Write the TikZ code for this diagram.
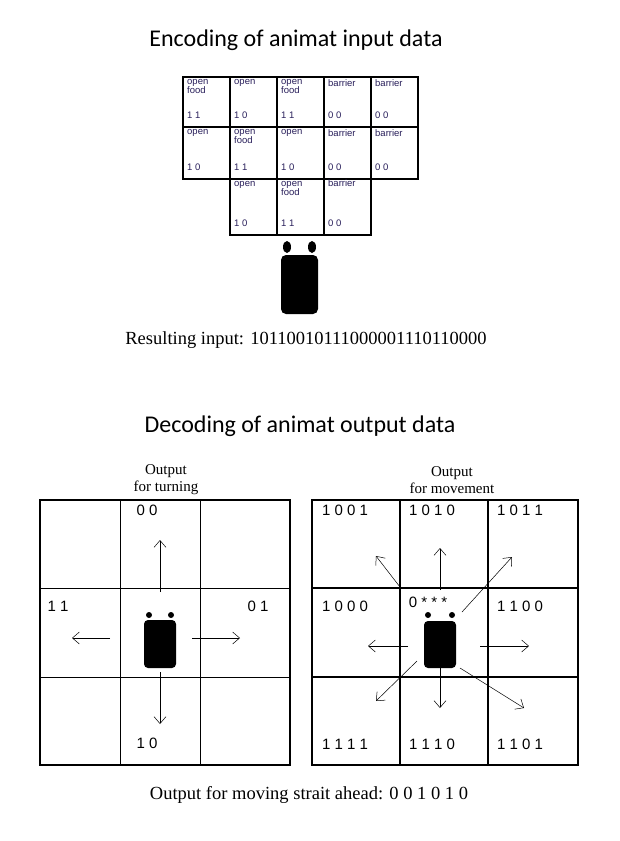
\documentclass[tikz,border=0pt]{standalone}
\usepackage{fontspec}
\setmainfont{Liberation Serif}
\setsansfont{Liberation Sans}
\newfontfamily\titlefont{Carlito}
\usetikzlibrary{arrows.meta,positioning}
\definecolor{celltext}{RGB}{40,30,90}
\begin{document}
\begin{tikzpicture}[x=1pt,y=-1pt,
    cell/.style={draw,line width=1.6pt,minimum width=47pt,minimum height=52pt,inner sep=0pt},
    celltxt/.style={font=\sffamily\fontsize{9.5}{9}\selectfont,text=celltext,align=left,anchor=north west,inner sep=0pt},
    grid/.style={line width=1.6pt},
    code/.style={font=\sffamily\fontsize{15}{15}\selectfont,inner sep=0pt},
    move/.style={-{Straight Barb[length=7pt,width=12pt]},line width=0.5pt},
    title/.style={font=\titlefont\fontsize{24}{24}\selectfont},
    caption/.style={font=\fontsize{15}{17}\selectfont,align=center},
    result/.style={font=\fontsize{18.5}{20}\selectfont}]
\useasboundingbox (0,0) rectangle (619,841);
\node[title] (enc) at (296,40) {Encoding of animat input data};
% input cells: x, y, height, top text, bits
\foreach \x/\y/\h/\t/\b [count=\i] in {
    182/76/50/{open\\food}/1 1, 229/76/50/open/1 0, 276/76/50/{open\\food}/1 1,
    323/76/50/barrier/0 0, 370/76/50/barrier/0 0,
    182/126/52/open/1 0, 229/126/52/{open\\food}/1 1, 276/126/52/open/1 0,
    323/126/52/barrier/0 0, 370/126/52/barrier/0 0,
    229/178/56/open/1 0, 276/178/56/{open\\food}/1 1, 323/178/56/{\\[-4pt]barrier}/0 0}{
  \node[cell,minimum height=\h pt,anchor=north west] (c\i) at (\x,\y) {};
  \node[celltxt] (t\i) at (\x+5,\y+3) {\t};
  \node[celltxt,anchor=south west] (b\i) at (\x+5,\y+\h-7) {\b};
}
% input robot
\fill[rounded corners=5pt] (281,255) rectangle (318,314);
\fill (287,247) ellipse (4pt and 6pt) (312,247) ellipse (4pt and 6pt);
\node[result] (res) at (306,340) {Resulting input: 10110010111000001110110000};
\node[title] (dec) at (300,426) {Decoding of animat output data};
% turning grid
\draw[grid] (40,500) rectangle (290,765);
\draw[line width=0.8pt] (120,500) -- (120,765) (200,500) -- (200,765)
    (40,588) -- (290,588) (40,677) -- (290,677);
\node[caption] (outt) at (166,480) {Output\\for turning};
\node[code] (l00) at (147,510) {0 0};
\node[code] (l11) at (58,606) {1 1};
\node[code] (l01) at (258,606) {0 1};
\node[code] (l10) at (147,743) {1 0};
\fill[rounded corners=4pt] (144,620) rectangle (176,668);
\fill (149,615) circle (3pt) (171,615) circle (3pt);
\draw[move] (160,592) -- (160,540);
\draw[move] (110,638) -- (72,638);
\draw[move] (192,638) -- (240,638);
\draw[move] (160,672) -- (160,724);
% movement grid
\draw[grid] (312,500) rectangle (578,765)
    (400,500) -- (400,765) (488,500) -- (488,765)
    (312,588) -- (578,588) (312,677) -- (578,677);
\node[caption] (outm) at (452,480) {Output\\for movement};
\foreach \x/\y/\l in {345/510/1 0 0 1, 432/510/1 0 1 0, 520/510/1 0 1 1,
    345/606/1 0 0 0, 520/606/1 1 0 0,
    345/744/1 1 1 1, 432/744/1 1 1 0, 520/744/1 1 0 1}
  \node[code] at (\x,\y) {\l};
\node[code] (star) at (428,602) {0 * * *};
\fill[rounded corners=4pt] (424,621) rectangle (456,668);
\fill (428,615) circle (3pt) (452,615) circle (3pt);
\draw[move] (440,590) -- (440,548);
\draw[move] (400,587) -- (376,556);
\draw[move] (462,612) -- (512,557);
\draw[move] (408,646) -- (368,646);
\draw[move] (480,646) -- (529,646);
\draw[move] (417,661) -- (376,701);
\draw[move] (440,668) -- (440,708);
\draw[move] (460,668) -- (524,708);
\node[result] (ahead) at (309,795) {Output for moving strait ahead: 0 0 1 0 1 0};
\end{tikzpicture}
\end{document}
